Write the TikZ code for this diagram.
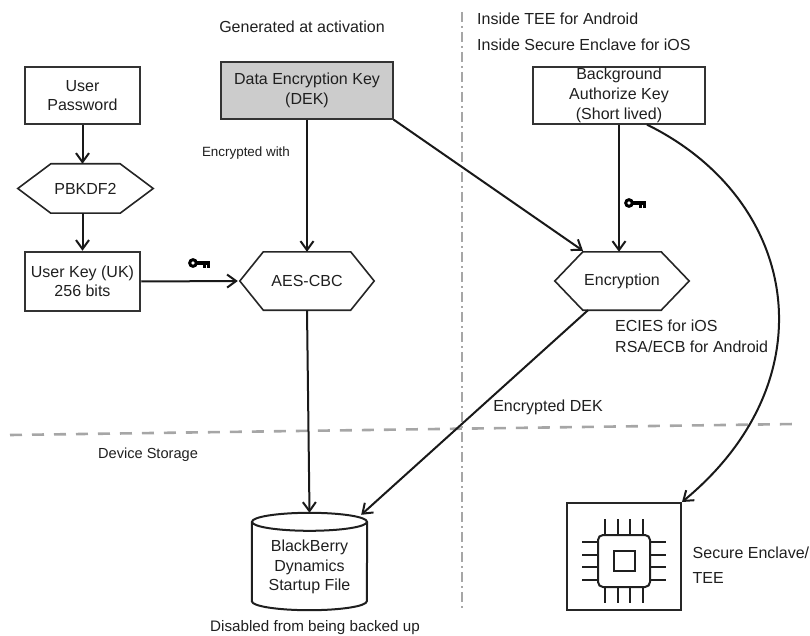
\documentclass[tikz,border=0pt]{standalone}
\usepackage{fontspec}
\setmainfont{Liberation Sans}
\usetikzlibrary{arrows.meta,calc}
\begin{document}
\begin{tikzpicture}[x=1pt,y=-1pt,
  every node/.style={font=\fontsize{16}{19.5}\selectfont, text=black!88, align=center, inner sep=0pt},
  box/.style={draw=black!80, line width=1.3pt},
  hexa/.style={minimum height=58pt, append after command={\pgfextra{\def\hexd{#1}%
      \draw[line width=1.6pt, draw=black!85, line join=miter]
      (\tikzlastnode.west) -- ($(\tikzlastnode.north west)+(\hexd,0)$) -- ($(\tikzlastnode.north east)+(-\hexd,0)$)
      -- (\tikzlastnode.east) -- ($(\tikzlastnode.south east)+(-\hexd,0)$) -- ($(\tikzlastnode.south west)+(\hexd,0)$) -- cycle;}}},
  arr/.style={line width=2pt, draw=black!90, -{Straight Barb[length=9pt,width=13pt,line width=2pt]}},
  sep/.style={draw=black!35, line width=2.6pt},
  keyicon/.pic={\draw[line width=3pt] (0,0) circle (3.3);
     \fill (4,-1.6) rectangle (17,1.6);
     \fill (10,0) rectangle (12.6,4.6);
     \fill (14.4,0) rectangle (17,4.6);}
]
\useasboundingbox (0,0) rectangle (810,636);

% separators
\coordinate (vtop) at (462,12);
\coordinate (vbot) at (462,610);
\draw[sep, line width=2pt, dash pattern=on 10pt off 4pt on 2pt off 4pt] (vtop) -- (vbot);
\coordinate (hleft) at (10,435);
\coordinate (hright) at (795,424);
\draw[sep, dash pattern=on 12pt off 10pt] (hleft) -- (hright);

% texts
\node (gen) at (302,27) {Generated at activation};
\node[anchor=west] (tee) at (477,19) {Inside TEE for Android};
\node[anchor=west] (ios) at (477,45) {Inside Secure Enclave for iOS};
\node[font=\fontsize{13.4}{16}\selectfont] (encw) at (246,153) {Encrypted with};
\node[anchor=west, align=left, font=\fontsize{16}{21}\selectfont] (ecies) at (615,336.5) {ECIES for iOS\\RSA/ECB for Android};
\node (edek) at (548,407) {Encrypted DEK};
\node[font=\fontsize{14.6}{17}\selectfont] (devs) at (148,455) {Device Storage};
\node[font=\fontsize{15.2}{18}\selectfont] (disab) at (315,628) {Disabled from being backed up};
\node[anchor=west, align=left, font=\fontsize{16}{25}\selectfont] (setxt) at (692.5,565.5) {Secure Enclave/\\TEE};

% boxes
\node[box, minimum width=115pt, minimum height=57pt] (up) at (82.5,95.5) {User\\Password};
\node[hexa=33, minimum width=135pt, minimum height=49pt] (pbk) at (85.5,188.5) {PBKDF2};
\node[box, line width=2.5pt, minimum width=115pt, minimum height=59pt] (uk) at (82.5,281.5) {User Key (UK)\\256 bits};
\node[box, fill=black!20, minimum width=172pt, minimum height=57pt] (dek) at (307,90.5) {Data Encryption Key\\(DEK)};
\node[hexa=23.5, minimum width=134pt] (aes) at (307,281) {AES-CBC};
\node[box, minimum width=172pt, minimum height=57pt, font=\fontsize{16}{20}\selectfont] (bgk) at (619,95.5) {Background\\Authorize Key\\(Short lived)};
\node[hexa=28, minimum width=134pt] (enc) at (622,281) {Encryption};

% cylinder
\node[minimum width=115pt, minimum height=97pt] (cyl) at (309.5,561.5) {};
\draw[line width=2pt, draw=black!88]
  ($(cyl.north west)+(0,9)$) -- ($(cyl.south west)+(0,-9)$)
  arc[start angle=180, end angle=360, x radius=57.5, y radius=-9]
  -- ($(cyl.north east)+(0,9)$);
\draw[line width=2pt, draw=black!88] ($(cyl.north)+(0,9)$) ellipse [x radius=57.5, y radius=9];
\node (bbtxt) at (309.5,567) {BlackBerry\\Dynamics\\Startup File};

% chip
\node[draw=black!85, line width=2pt, minimum width=114pt, minimum height=107pt] (chip) at (624,556.5) {};
\begin{scope}[shift={($(chip.center)+(0,4.5)$)}, line width=2pt, draw=black!88]
  \draw[rounded corners=5pt] (-26,-26) rectangle (26,26);
  \draw (-10.5,-10) rectangle (10.5,10);
  \foreach \p in {-19,-6.3,6.3,19}{
    \draw (\p,-26) -- (\p,-42);
    \draw (\p,26) -- (\p,42);
    \draw (-26,\p) -- (-42,\p);
    \draw (26,\p) -- (42,\p);
  }
\end{scope}

% key icons
\pic at (193,263) {keyicon};
\pic at (629,203) {keyicon};

% connectors
\draw[arr] (up.south) -- (up.south |- pbk.north);
\draw[arr] (up.south |- pbk.south) -- (uk.north);
\draw[arr] (uk.east) -- ($(aes.west)+(-2,0)$);
\draw[arr] (dek.south) -- (aes.north);
\draw[arr] (dek.south east) -- ($(enc.north)+(-39,-1)$);
\draw[arr] (bgk.south) -- (bgk.south |- enc.north);
\draw[arr] ($(enc.south)+(-34,0)$) -- ($(cyl.north east)+(-6,2)$);
\draw[arr] (aes.south) -- (cyl.north);
\draw[arr] ($(bgk.south)+(28,0)$) .. controls (800,200) and (830,380) .. (chip.north east);
\end{tikzpicture}
\end{document}
